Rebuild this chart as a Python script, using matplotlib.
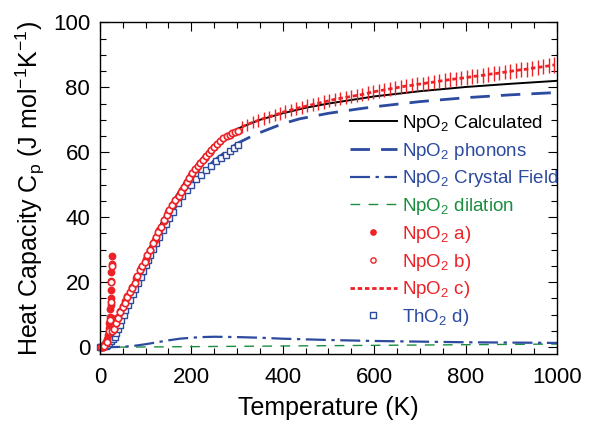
import matplotlib
matplotlib.use("Agg")
import matplotlib.pyplot as plt
from matplotlib.lines import Line2D

plt.rcParams["font.family"] = ["Liberation Sans", "DejaVu Sans"]
plt.rcParams["mathtext.fontset"] = "custom"
plt.rcParams["mathtext.rm"] = "Liberation Sans"
plt.rcParams["mathtext.it"] = "Liberation Sans:italic"
plt.rcParams["mathtext.bf"] = "Liberation Sans:bold"

RED = "#ec2227"
BLUE = "#2c4a9e"
GREEN = "#1b8d3f"

# --- model curves (K, J/mol/K) ---
calc_T = [0, 20, 40, 60, 80, 100, 120, 140, 160, 180, 200, 225, 250, 275, 300,
          350, 400, 450, 500, 600, 700, 800, 900, 1000]
calc_cp = [0, 1.5, 6, 13, 20.5, 28, 34, 39.8, 45, 49.5, 54, 58.5, 62.2, 65, 67.2,
           70, 72, 73.7, 75, 77.2, 78.8, 80.1, 81.1, 82]

phon_T = [0, 50, 100, 150, 200, 250, 300, 340, 400, 437, 500, 568, 600, 700, 800,
          900, 1000]
phon_cp = [0, 9, 25, 40, 50, 57.5, 62.7, 65.5, 68.8, 70.3, 72, 73.4, 74, 75.6, 76.8,
           77.7, 78.4]

cf_T = [0, 25, 50, 75, 100, 125, 150, 175, 200, 225, 250, 300, 350, 400, 450, 500,
        600, 700, 800, 900, 1000]
cf_cp = [0, 0, 0.1, 0.4, 0.9, 1.5, 2.1, 2.6, 2.9, 3.1, 3.2, 3.1, 2.9, 2.6, 2.4, 2.2,
         1.9, 1.7, 1.5, 1.4, 1.3]

dil_T = [0, 100, 200, 300, 400, 500, 600, 700, 800, 900, 1000]
dil_cp = [0, 0.05, 0.15, 0.25, 0.35, 0.45, 0.55, 0.65, 0.75, 0.85, 0.95]

# --- NpO2 a) filled circles ---
a_T = [2, 5, 8, 10, 12, 14, 16, 18, 19, 20, 21, 22, 23, 23.5, 24, 24.5, 25, 25.3,
       25.5, 25.7, 26.5, 28, 30, 35, 40, 45, 50, 55, 60, 70, 80, 90, 100, 110, 120,
       130, 140, 150, 160, 170, 180, 190, 200, 210, 220, 230, 240, 250]
a_cp = [0, 0.1, 0.3, 0.6, 1.0, 1.6, 2.5, 3.7, 4.6, 5.8, 7.3, 9.2, 11.6, 13, 15, 17.5,
        20.5, 23, 25.5, 28, 9, 5.2, 5.5, 7.4, 9.2, 11, 12.6, 14.1, 15.6, 18.5, 21.4,
        24.3, 27, 29.9, 33, 36, 38.8, 41.6, 44, 46.2, 48.5, 50.8, 53, 55, 56.7, 58.3,
        60, 61.5]

# --- NpO2 b) open circles ---
b_T = [2, 6, 10, 15, 20, 22, 24, 25, 25.6, 27, 30, 35, 40, 45, 50, 54, 60, 65, 70,
       76, 82, 88, 93, 98, 104, 110, 116, 122, 128, 134, 140, 146, 152, 158, 165, 172,
       178, 184, 190, 196, 202, 208, 214, 220, 226, 232, 238, 244, 250, 256, 263,
       270, 277, 284, 290, 296, 302]
b_cp = [0, 0.1, 0.5, 1.5, 5, 8.5, 14, 20, 25, 5, 5.5, 7.3, 9, 10.8, 12.5, 13.5, 15.5,
        16.9, 18.3, 19.9, 21.8, 23.6, 25, 26.3, 28.3, 30, 32, 33.9, 35.6, 37.1, 39,
        40.7, 42.3, 43.7, 45.2, 46.6, 47.9, 49.4, 50.8, 52.2, 53.5, 54.7, 55.7, 56.7,
        57.7, 58.8, 59.8, 60.8, 61.7, 62.6, 63.6, 64.3, 64.9, 65.4, 65.8, 66.1, 66.4]

# --- NpO2 c) high temperature data with error bars ---
c_T = [310, 322, 334, 346, 358, 370, 382, 394, 406, 418, 430, 442, 454, 466, 478,
       490, 502, 514, 526, 538, 550, 562, 574, 586, 598, 610, 622, 634, 646, 658,
       670, 682, 694, 706, 718, 730, 742, 754, 766, 778, 790, 802, 814, 826, 838,
       850, 862, 874, 886, 898, 910, 922, 934, 946, 958, 970, 982, 994]
c_cp = [67.8, 68.5, 69.2, 69.8, 70.4, 70.9, 71.5, 72.0, 72.6, 73.0, 73.5, 73.9, 74.3,
        74.7, 75.1, 75.5, 75.9, 76.3, 76.6, 76.9, 77.2, 77.5, 77.8, 78.2, 78.6, 78.9,
        79.2, 79.5, 79.8, 80.1, 80.4, 80.6, 80.9, 81.1, 81.4, 81.6, 81.9, 82.1, 82.4,
        82.6, 82.8, 83.0, 83.3, 83.5, 83.7, 84.0, 84.2, 84.4, 84.7, 84.9, 85.2, 85.4,
        85.6, 85.9, 86.1, 86.4, 86.6, 86.9]
c_relerr = 0.027

# --- ThO2 d) open squares ---
d_T = [1, 3, 5, 8, 10, 13, 16, 20, 24, 28, 32, 36, 40, 44, 47, 52, 56, 61, 66, 72,
       77, 83, 89, 95, 100, 105, 110, 116, 123, 130, 137, 145, 152, 160, 171, 180,
       190, 200, 210, 222, 232, 244, 255, 265, 275, 284, 293, 302]
d_cp = [0, 0, 0.1, 0.2, 0.3, 0.5, 0.8, 1.2, 1.8, 2.5, 3.2, 4.3, 5.5, 6.8, 8.3, 9.8,
        11.3, 13, 14.5, 16.3, 18, 19.7, 21.7, 23.5, 25.3, 26.9, 28.5, 30.3, 32, 34,
        36, 38, 39.7, 41.7, 44.3, 46.5, 48.3, 50, 51.7, 53.1, 54.5, 55.8, 57.2, 58.3,
        59.3, 60.3, 61.3, 62.3]

fig = plt.figure(figsize=(5.91, 4.22), dpi=100)
ax = fig.add_axes([0.169, 0.162, 0.7735, 0.785])

ax.plot(dil_T, dil_cp, color=GREEN, lw=1.0, dashes=(7, 6))
ax.plot(cf_T, cf_cp, color=BLUE, lw=1.6, dashes=(9, 2.5, 1.5, 2.5))
ax.plot(phon_T, phon_cp, color=BLUE, lw=2.0, dashes=(7, 4))
ax.plot(calc_T, calc_cp, color="black", lw=1.4)

ax.plot(d_T, d_cp, ls="none", marker="s", ms=4.6, mfc="white", mec=BLUE, mew=1.0,
        clip_on=False)
ax.plot(a_T, a_cp, ls="none", marker="o", ms=4.6, mfc=RED, mec=RED, clip_on=False)
ax.plot(b_T, b_cp, ls="none", marker="o", ms=4.6, mfc="white", mec=RED, mew=1.2,
        clip_on=False)
ax.errorbar(c_T, c_cp, yerr=[v * c_relerr for v in c_cp], fmt="none", ecolor=RED,
            elinewidth=1.0, capsize=0)
ax.plot(c_T, c_cp, color=RED, lw=2.0, dashes=(1.6, 1.0))

ax.set_xlim(0, 1000)
ax.set_ylim(-2, 100)
ax.set_xticks([0, 200, 400, 600, 800, 1000])
ax.set_xticks(range(0, 1001, 50), minor=True)
ax.set_yticks([0, 20, 40, 60, 80, 100])
ax.set_yticks(range(0, 101, 5), minor=True)
ax.tick_params(which="both", direction="in", top=True, right=True, width=0.8,
               labelsize=16)
ax.tick_params(which="major", length=6.5, pad=7)
ax.tick_params(axis="x", which="major", pad=9.5)
ax.tick_params(which="minor", length=4.3)
for s in ax.spines.values():
    s.set_linewidth(1.0)

ax.set_xlabel("Temperature (K)", fontsize=18, labelpad=6)
ax.set_ylabel(r"Heat Capacity C$_\mathrm{p}$ (J mol$^{-1}$K$^{-1}$)", fontsize=18,
              labelpad=4)

handles = [
    Line2D([], [], color="black", lw=1.4),
    Line2D([], [], color=BLUE, lw=2.0, dashes=(7, 4)),
    Line2D([], [], color=BLUE, lw=1.6, dashes=(9, 2.5, 1.5, 2.5)),
    Line2D([], [], color=GREEN, lw=1.0, dashes=(7, 6)),
    Line2D([], [], ls="none", marker="o", ms=3.8, mfc=RED, mec=RED),
    Line2D([], [], ls="none", marker="o", ms=3.8, mfc="white", mec=RED, mew=1.0),
    Line2D([], [], color=RED, lw=2.0, dashes=(1.6, 1.0)),
    Line2D([], [], ls="none", marker="s", ms=4.0, mfc="white", mec=BLUE, mew=1.0),
]
labels = [r"NpO$_2$ Calculated", r"NpO$_2$ phonons", r"NpO$_2$ Crystal Field",
          r"NpO$_2$ dilation", r"NpO$_2$ a)", r"NpO$_2$ b)", r"NpO$_2$ c)",
          r"ThO$_2$ d)"]
label_colors = ["black", BLUE, BLUE, GREEN, RED, RED, RED, BLUE]
ax.legend(handles, labels, loc="upper left", bbox_to_anchor=(0.547, 0.727),
          frameon=False, fontsize=13.5, labelcolor=label_colors, handlelength=2.5,
          handletextpad=0.3, labelspacing=0.36, borderpad=0, borderaxespad=0)

fig.savefig("out.png", dpi=100)
